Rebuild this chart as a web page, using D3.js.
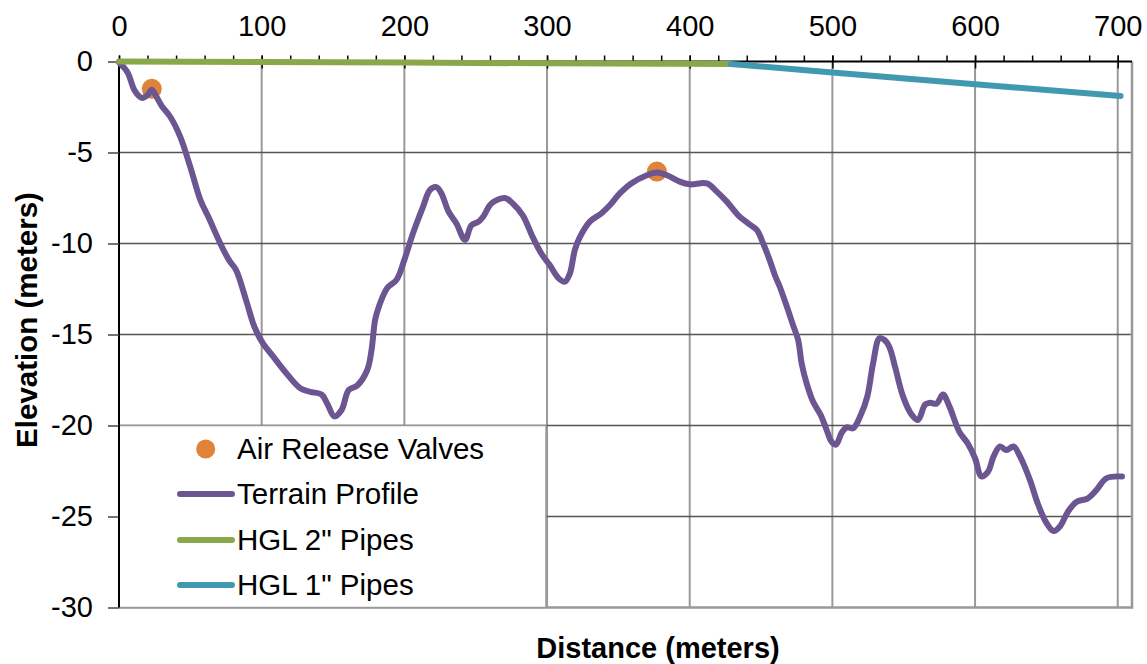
<!DOCTYPE html>
<html>
<head>
<meta charset="utf-8">
<script src="https://cdn.jsdelivr.net/npm/d3@7"></script>
<style>
  html, body { margin: 0; padding: 0; background: #fff; }
  svg { display: block; font-family: Arial, "Liberation Sans", sans-serif; }
</style>
</head>
<body>
<svg id="chart" width="1147" height="664"></svg>
<script>
// ---------- data ----------
const terrainDistance = [0, 6, 11, 16, 20, 23, 26, 30, 36, 43, 50, 57, 63, 71, 77, 82, 89, 95, 101, 108, 117, 127, 134, 142, 146, 151, 156, 161, 167, 174, 177, 179.5, 182, 188, 194.5, 200, 206, 213, 218, 222.5, 226, 231, 236.5, 242.5, 247, 252, 255.5, 261, 270.5, 276, 283, 290, 296, 302, 308, 312.5, 316, 319.5, 323, 330, 338, 344, 351, 359, 370, 377, 384, 393, 400, 412, 419, 426, 434, 441, 447, 451.5, 456, 460, 463, 468, 472.5, 476, 478.5, 482, 486.5, 492, 496, 499.5, 502.5, 506.5, 510, 514.5, 520, 524.5, 528.5, 533, 536.5, 540, 544, 549.5, 555.5, 560, 565, 568.5, 573, 577.5, 582, 589, 595, 600, 604.5, 609, 613, 617.5, 622, 627, 631.5, 638.5, 644, 650, 655, 659.5, 665, 671, 679, 685, 692, 703];
const terrainElevation = [-0.05, -0.6, -1.6, -2.0, -1.85, -1.55, -1.9, -2.45, -3.05, -4.15, -5.8, -7.6, -8.6, -10.0, -10.9, -11.45, -13.1, -14.6, -15.5, -16.2, -17.1, -17.95, -18.15, -18.3, -18.8, -19.5, -19.15, -18.05, -17.8, -16.95, -15.85, -14.2, -13.5, -12.45, -12.0, -10.9, -9.45, -8.0, -7.05, -6.9, -7.25, -8.25, -8.9, -9.8, -9.0, -8.8, -8.5, -7.8, -7.5, -7.8, -8.45, -9.65, -10.55, -11.2, -11.9, -12.1, -11.65, -10.35, -9.65, -8.8, -8.35, -7.9, -7.25, -6.7, -6.25, -6.1, -6.25, -6.6, -6.75, -6.7, -7.15, -7.7, -8.45, -8.9, -9.25, -10.0, -10.9, -11.8, -12.35, -13.45, -14.5, -15.3, -16.6, -17.7, -18.7, -19.45, -20.25, -20.9, -21.05, -20.4, -20.1, -20.15, -19.4, -18.4, -16.6, -15.2, -15.3, -15.7, -16.8, -18.4, -19.4, -19.7, -18.85, -18.75, -18.8, -18.3, -18.95, -20.35, -21.0, -21.8, -22.8, -22.55, -21.7, -21.15, -21.35, -21.15, -21.7, -23.0, -24.3, -25.35, -25.8, -25.55, -24.75, -24.2, -24.0, -23.55, -22.9, -22.8];

const hgl2Distance = [0, 100, 200, 300, 429];
const hgl2Elevation = [0, -0.03, -0.06, -0.1, -0.14];

const hgl1Distance = [429, 500, 600, 702];
const hgl1Elevation = [-0.14, -0.6, -1.25, -1.9];

const valveDistance = [23, 377];
const valveElevation = [-1.5, -6.05];

const xTicks = [0, 100, 200, 300, 400, 500, 600, 700];
const xMinorTicks = d3.range(0, 711, 20);
const yTicks = [0, -5, -10, -15, -20, -25, -30];

const legendLabels = ["Air Release Valves", "Terrain Profile", "HGL 2\" Pipes", "HGL 1\" Pipes"];
const xTitle = "Distance (meters)";
const yTitle = "Elevation (meters)";

// ---------- styles ----------
const colTerrain = "#6b5691";
const colHgl2 = "#8aa84a";
const colHgl1 = "#4199b0";
const colValve = "#e0833a";

(function () {
const svg = d3.select("#chart");
const pL = 119, pR = 1132, pT = 61.5, pB = 607.5;
const fontFam = "Arial, 'Liberation Sans', sans-serif";

const x = d3.scaleLinear().domain([0, 710]).range([pL, pR]);
const y = d3.scaleLinear().domain([0, -30]).range([pT, pB]);

// gridlines
const grid = svg.append("g");
grid.selectAll("line.v").data(xTicks.filter(d => d > 0)).join("line")
  .attr("class", "v")
  .attr("x1", d => x(d)).attr("x2", d => x(d))
  .attr("y1", pT).attr("y2", pB)
  .attr("stroke", "#999").attr("stroke-width", 2);
grid.selectAll("line.h").data(yTicks.filter(d => d < 0 && d > -30)).join("line")
  .attr("class", "h")
  .attr("x1", pL).attr("x2", pR)
  .attr("y1", d => y(d)).attr("y2", d => y(d))
  .attr("stroke", "#555").attr("stroke-width", 1.5);

// plot border (right & bottom)
svg.append("path")
  .attr("d", `M${pL},${pB}H${pR}V${pT}`)
  .attr("fill", "none").attr("stroke", "#999").attr("stroke-width", 2.5);

// top axis (minor ticks)
svg.append("g").attr("transform", `translate(0,${pT})`)
  .call(d3.axisTop(x).tickValues(xMinorTicks).tickSize(6).tickFormat(""))
  .call(g => g.select(".domain").remove())
  .call(g => g.selectAll("line").attr("stroke", "#000").attr("stroke-width", 1.5));

// top axis (major)
const xAxisG = svg.append("g").attr("transform", `translate(0,${pT})`)
  .call(d3.axisTop(x).tickValues(xTicks).tickSizeInner(6).tickSizeOuter(0).tickPadding(20).tickFormat(d => String(d)));
xAxisG.select(".domain").attr("d", `M${pL},0H${pR}`).attr("stroke", "#000").attr("stroke-width", 2);
xAxisG.selectAll(".tick line").attr("y2", -6).attr("y1", 7).attr("stroke", "#000").attr("stroke-width", 1.5);
xAxisG.selectAll(".tick text").attr("font-size", 29).attr("fill", "#000").attr("font-family", fontFam);

// left axis
const yAxisG = svg.append("g").attr("transform", `translate(${pL},0)`)
  .call(d3.axisLeft(y).tickValues(yTicks).tickSizeInner(11).tickSizeOuter(0).tickPadding(15).tickFormat(d => String(d)));
yAxisG.select(".domain").attr("d", `M0,${pT}V${pB}`).attr("stroke", "#000").attr("stroke-width", 2);
yAxisG.selectAll(".tick line").attr("stroke", "#444").attr("stroke-width", 1.5);
yAxisG.selectAll(".tick text").attr("font-size", 29).attr("fill", "#000").attr("font-family", fontFam);

// valves (under terrain line)
svg.append("g").selectAll("circle").data(valveDistance).join("circle")
  .attr("cx", d => x(d)).attr("cy", (d, i) => y(valveElevation[i]))
  .attr("r", 10).attr("fill", colValve);

// terrain
const terrainData = terrainDistance.map((d, i) => [d, terrainElevation[i]]);
svg.append("path").datum(terrainData)
  .attr("d", d3.line().x(d => x(d[0])).y(d => y(d[1])).curve(d3.curveCatmullRom.alpha(0.5)))
  .attr("fill", "none").attr("stroke", colTerrain).attr("stroke-width", 6)
  .attr("stroke-linecap", "round").attr("stroke-linejoin", "round");

// HGL lines
const hgl2Data = hgl2Distance.map((d, i) => [d, hgl2Elevation[i]]);
svg.append("path").datum(hgl2Data)
  .attr("d", d3.line().x(d => x(d[0])).y(d => y(d[1])))
  .attr("fill", "none").attr("stroke", colHgl2).attr("stroke-width", 6)
  .attr("stroke-linecap", "round");
const hgl1Data = hgl1Distance.map((d, i) => [d, hgl1Elevation[i]]);
svg.append("path").datum(hgl1Data)
  .attr("d", d3.line().x(d => x(d[0])).y(d => y(d[1])))
  .attr("fill", "none").attr("stroke", colHgl1).attr("stroke-width", 6)
  .attr("stroke-linecap", "round");

// legend
const lg = svg.append("g");
lg.append("rect").attr("x", pL).attr("y", y(-20)).attr("width", 546 - pL).attr("height", pB - y(-20))
  .attr("fill", "#fff").attr("stroke", "#999").attr("stroke-width", 1.5);
lg.append("line").attr("x1", pL).attr("x2", pL).attr("y1", y(-20) - 1).attr("y2", pB)
  .attr("stroke", "#000").attr("stroke-width", 2);
const rowY = [449, 494, 540, 585];
const legendColors = [colValve, colTerrain, colHgl2, colHgl1];
legendLabels.forEach((lab, i) => {
  if (i === 0) {
    lg.append("circle").attr("cx", 205.7).attr("cy", rowY[i]).attr("r", 9.5).attr("fill", legendColors[i]);
  } else {
    lg.append("line").attr("x1", 180).attr("x2", 232).attr("y1", rowY[i]).attr("y2", rowY[i])
      .attr("stroke", legendColors[i]).attr("stroke-width", 6).attr("stroke-linecap", "round");
  }
  lg.append("text").attr("x", 237).attr("y", rowY[i] + 10)
    .attr("font-size", 29.5).attr("fill", "#000").text(lab);
});

// axis titles
svg.append("text").attr("x", 658).attr("y", 658).attr("text-anchor", "middle")
  .attr("font-size", 29).attr("font-weight", "bold").text(xTitle);
svg.append("text").attr("transform", "translate(37,320) rotate(-90)").attr("text-anchor", "middle")
  .attr("font-size", 29.5).attr("font-weight", "bold").text(yTitle);
})();
</script>
</body>
</html>
